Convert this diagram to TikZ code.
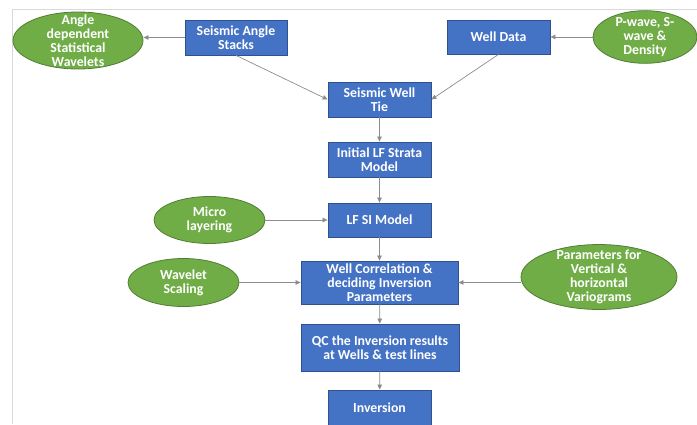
\documentclass[tikz,border=0pt]{standalone}
\usepackage{fontspec}
\setmainfont{Carlito}
\usepackage{xcolor}
\usetikzlibrary{arrows.meta,shapes.geometric,positioning}
\definecolor{boxblue}{RGB}{68,114,196}
\definecolor{boxedge}{RGB}{47,82,143}
\definecolor{ovgreen}{RGB}{112,173,71}
\definecolor{ovedge}{RGB}{80,126,50}
\definecolor{arrgray}{RGB}{140,140,140}
\definecolor{framegray}{RGB}{217,217,217}
\newcommand{\lbl}{\bfseries\fontsize{13.8}{14}\selectfont}

\begin{document}
\begin{tikzpicture}[x=1pt,y=-1pt,
  proc/.style={draw=boxedge,line width=0.8pt,fill=boxblue,text=white,font=\lbl,align=center,inner sep=0pt,minimum width=103pt,minimum height=35pt},
  oval/.style={ellipse,draw=ovedge,line width=0.8pt,fill=ovgreen,text=white,font=\lbl,align=center,inner sep=0pt},
  flow/.style={draw=arrgray,line width=0.7pt,-{Triangle[length=5pt,width=4.5pt]}}]
  \useasboundingbox (0,0) rectangle (697,424);
  \draw[framegray,line width=1pt] (697,9) -- (12.5,9) -- (12.5,424);
  % main column
  \node[proc,minimum width=102pt] (stacks) at (236,37.5) {Seismic Angle\\Stacks};
  \node[proc,minimum height=34pt] (well) at (498.5,37) {Well Data};
  \node[proc] (tie) at (379.5,99.5) {Seismic Well\\Tie};
  \node[proc] (strata) at (379.5,159.5) {Initial LF Strata\\Model};
  \node[proc,minimum height=34pt] (lfsi) at (379.5,220) {LF SI Model};
  \node[proc,minimum width=157pt,minimum height=43pt] (corr) at (379.5,282.5) {Well Correlation \&\\deciding Inversion\\Parameters};
  \node[proc,minimum width=158pt,minimum height=47pt] (qc) at (380,347.5) {QC the Inversion results\\at Wells \& test lines};
  \node[proc,minimum height=36pt] (inv) at (379.5,408) {Inversion};
  % inputs
  \node[oval,minimum width=130pt,minimum height=57pt,inner ysep=-6pt] (wavang) at (78,40.5) {Angle\\dependent\\Statistical\\Wavelets};
  \node[oval,minimum width=104pt,minimum height=51pt,inner ysep=-1pt] (logs) at (645,37) {P-wave, S-\\wave \&\\Density};
  \node[oval,minimum width=111pt,minimum height=47pt] (micro) at (209.5,220) {Micro\\layering};
  \node[oval,minimum width=111pt,minimum height=48pt] (wscale) at (183.5,282.5) {Wavelet\\Scaling};
  \node[oval,minimum width=156pt,minimum height=64pt,inner ysep=-4pt] (vario) at (599,277) {Parameters for\\Vertical \&\\horizontal\\Variograms};
  % connectors
  \draw[flow] (stacks.west) -- (wavang.east |- stacks.west);
  \draw[flow] (logs.west) -- (well.east);
  \draw[flow] (stacks.south) -- (tie.west);
  \draw[flow] (well.south) -- (tie.east);
  \draw[flow] (tie) -- (strata);
  \draw[flow] (strata) -- (lfsi);
  \draw[flow] (micro.east) -- (lfsi.west);
  \draw[flow] (lfsi) -- (corr);
  \draw[flow] (wscale.east) -- (corr.west);
  \draw[flow] (vario.west |- corr.east) -- (corr.east);
  \draw[flow] (corr) -- (qc);
  \draw[flow] (qc) -- (inv);
\end{tikzpicture}
\end{document}
